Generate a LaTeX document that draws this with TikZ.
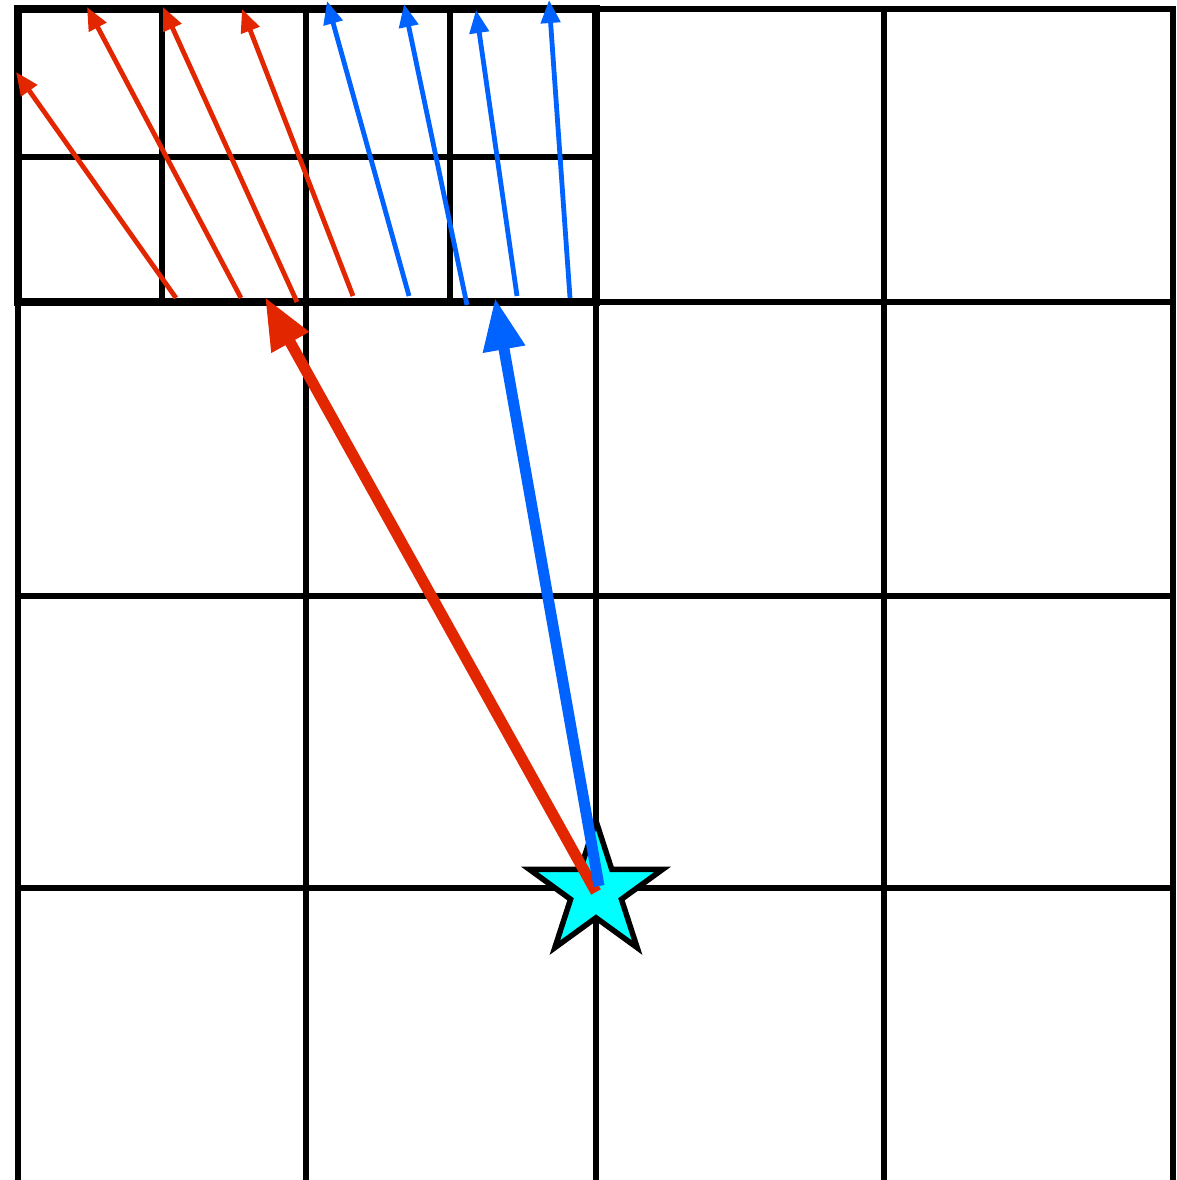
\documentclass[tikz,border=0pt]{standalone}
\usetikzlibrary{arrows.meta,shapes.geometric}
\definecolor{rayred}{RGB}{226,38,0}
\definecolor{rayblue}{RGB}{0,98,255}
\definecolor{srcfill}{RGB}{0,255,255}
\begin{document}
\begin{tikzpicture}[
  x=0.01cm,
  y=-0.01cm,
  grid/.style={line width=0.055cm, line cap=rect},
  ray/.style={line width=0.048cm, -{Triangle[length=0.23cm,width=0.19cm]}},
  bigray/.style={line width=0.11cm, -{Triangle[length=0.52cm,width=0.4cm]}}
]
  \useasboundingbox (0,0) rectangle (1176,1180);

  % Coarse grid
  \foreach \x in {18,306,596,884,1173}
    \draw[grid] (\x,9) -- (\x,1186);
  \foreach \y in {9,302,596,888}
    \draw[grid] (18,\y) -- (1173,\y);

  % Refined block
  \draw[line width=0.08cm] (18,9) rectangle (596,302);
  \draw[grid] (162,9) -- (162,302);
  \draw[grid] (450,9) -- (450,302);
  \draw[grid] (18,157) -- (596,157);

  % Source
  \node[star, star points=5, star point ratio=2.618,
        minimum size=1.4cm, inner sep=0pt,
        draw, line width=0.055cm, fill=srcfill] (src) at (596,891) {};

  % End points of the two main rays
  \coordinate (redtail)  at (596,892);
  \coordinate (bluetail) at (599,886);
  \coordinate (redtip)   at (265,297);
  \coordinate (bluetip)  at (495,298);

  % Fine rays
  \foreach \ax/\ay/\bx/\by in {176/298/16/72, 241/298/87/7,
                               297/302/163/7, 353/296/242/9}
    \draw[ray, rayred] (\ax,\ay) -- (\bx,\by);
  \foreach \ax/\ay/\bx/\by in {409/296/327/1, 467/305/404/4,
                               517/296/476/10, 570/298/549/0}
    \draw[ray, rayblue] (\ax,\ay) -- (\bx,\by);

  % Main rays
  \draw[bigray, rayred]  (redtail)  -- (redtip);
  \draw[bigray, rayblue] (bluetail) -- (bluetip);
\end{tikzpicture}
\end{document}
